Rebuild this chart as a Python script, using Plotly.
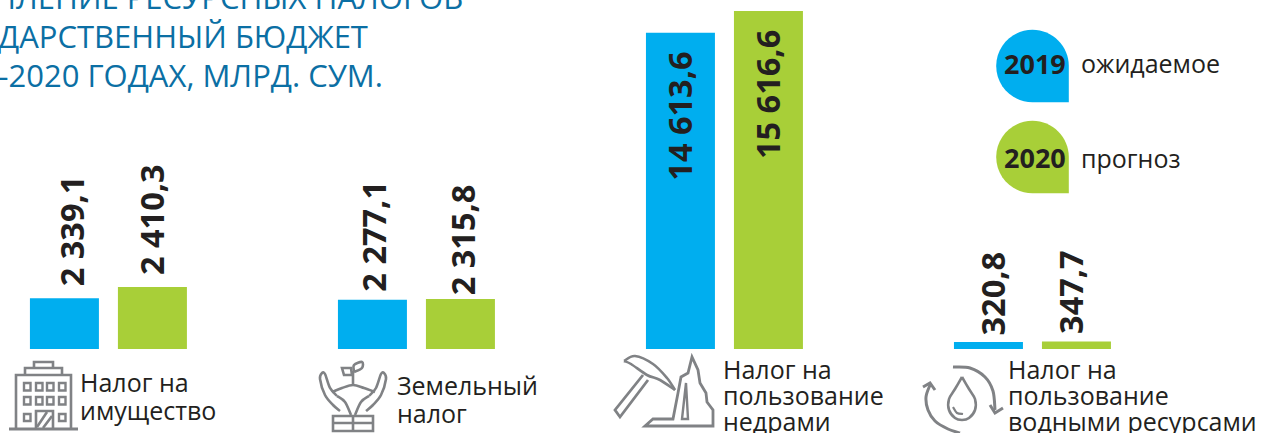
import plotly.graph_objects as go

W, H = 1261, 433

categories = ["Налог на имущество", "Земельный налог", "Налог на пользование недрами", "Налог на пользование водными ресурсами"]
# Values printed on the chart
values_2019 = [2339.1, 2277.1, 14613.6, 320.8]
values_2020 = [2410.3, 2315.8, 15616.6, 347.7]
# Bar heights: in the source the first 2020 bar is drawn taller than its printed value
bars_2019 = [2339.1, 2277.1, 14613.6, 320.8]
bars_2020 = [2860.0, 2315.8, 15616.6, 347.7]
label_lines = [["Налог на", "имущество"], ["Земельный", "налог"], ["Налог на", "пользование", "недрами"], ["Налог на", "пользование", "водными ресурсами"]]
title_lines = ["ПОСТУПЛЕНИЕ РЕСУРСНЫХ НАЛОГОВ", "В ГОСУДАРСТВЕННЫЙ БЮДЖЕТ", "В 2019–2020 ГОДАХ, МЛРД. СУМ."]
legend_years = ["2019", "2020"]
legend_names = ["ожидаемое", "прогноз"]

BLUE, GREEN, DARK, GREY, TITLE = "#00AEEF", "#A8CF38", "#231F20", "#808285", "#0B6FA4"
FONT = "Open Sans"

def fx(x): return x / W
def fy(y): return 1 - y / H

def path(*pts, close=False):
    return "M " + " L ".join(f"{fx(x):.5f},{fy(y):.5f}" for x, y in pts) + (" Z" if close else "")

def spline(*pts):
    """Catmull-Rom through pts, as cubic Beziers in paper coordinates."""
    d = f"M {fx(pts[0][0]):.5f},{fy(pts[0][1]):.5f}"
    for i in range(len(pts) - 1):
        p0 = pts[max(i - 1, 0)]; p1 = pts[i]; p2 = pts[i + 1]; p3 = pts[min(i + 2, len(pts) - 1)]
        c1 = (p1[0] + (p2[0] - p0[0]) / 6, p1[1] + (p2[1] - p0[1]) / 6)
        c2 = (p2[0] - (p3[0] - p1[0]) / 6, p2[1] - (p3[1] - p1[1]) / 6)
        d += f" C {fx(c1[0]):.5f},{fy(c1[1]):.5f} {fx(c2[0]):.5f},{fy(c2[1]):.5f} {fx(p2[0]):.5f},{fy(p2[1]):.5f}"
    return d

shapes = []
def stroke(*pts, close=False, w=2.6):
    shapes.append(dict(type="path", xref="paper", yref="paper", path=path(*pts, close=close),
                       line=dict(color=GREY, width=w)))

def curve(*pts, w=2.6):
    shapes.append(dict(type="path", xref="paper", yref="paper", path=spline(*pts),
                       line=dict(color=GREY, width=w)))

def rect(x0, y0, x1, y1, w=2.4):
    stroke((x0, y0), (x1, y0), (x1, y1), (x0, y1), close=True, w=w)

# building icon
stroke((9, 429), (78, 429), w=3)
stroke((16, 429), (16, 375), (71, 375), (71, 429))
stroke((25, 375), (25, 368), (62, 368), (62, 375))
stroke((34, 368), (34, 362), (53, 362), (53, 368))
for row_y in (383, 397):
    for col_x in (24, 36, 47, 59):
        rect(col_x, row_y, col_x + 6.5, row_y + 7.5)
rect(24, 414, 30.5, 421)
rect(59, 414, 65.5, 421)
stroke((36, 429), (36, 411), (53, 411), (53, 429))
stroke((37, 427), (47, 412))
stroke((43, 428), (52, 416))

# land icon
stroke((333, 416), (373, 416), (373, 431), (333, 431), close=True)
stroke((333, 423), (373, 423))
stroke((353, 416), (353, 431))
curve((340, 411), (333, 405), (325, 395), (320, 379), (322, 373), (325, 374), (330, 388), (337, 396))
curve((366, 411), (373, 405), (381, 395), (386, 379), (384, 373), (381, 374), (376, 388), (369, 396))
curve((337, 396), (345, 402), (351, 415))
curve((369, 396), (361, 402), (355, 415))
curve((332, 392), (342, 388), (353, 385), (364, 388), (375, 392))
stroke((353, 385), (353, 371))
stroke((352, 375), (344, 375), (342, 368), (351, 368), close=True)
curve((354, 372), (354, 365), (362, 362), (362, 368), (354, 372))

# pick and rock icon
curve((624, 361), (635, 356), (653, 364), (667, 378), (675, 390))
curve((675, 390), (660, 380), (647, 375), (631, 364), (624, 361))
stroke((643, 375), (615, 410), (620, 417), (648, 380), w=2.8)
stroke((645, 426), (653, 419), (673, 419), (678, 393), (681, 377), (688, 373), (692, 357), (698, 370), (700, 383),
       (706, 393), (707, 402), (713, 410), (713, 426), close=True, w=2.8)
stroke((682, 419), (686, 383), (688, 419), close=True, w=2.4)

# water icon
curve((953, 367), (970, 368), (985, 377), (993, 391), (995, 410), w=3)
curve((930, 385), (926, 397), (928, 410), (935, 421), (948, 429), (960, 433), w=3)
stroke((990, 405), (995, 413), (1003, 408), w=3)
stroke((923, 387), (930, 383), (935, 390), w=3)
curve((962, 377), (955, 389), (949, 399), (949, 410), (955, 418), (962, 420), (969, 418), (975, 410), (975, 399), (969, 389), (962, 377), w=2.6)
curve((953, 407), (957, 413), (963, 414), w=2.2)

# legend drops
k = 0.5523
for yc, col in ((66, BLUE), (157, GREEN)):
    cx, r = 1032.5, 36.3
    d = (f"M {fx(cx)},{fy(yc-r)} "
         f"C {fx(cx+k*r)},{fy(yc-r)} {fx(cx+r)},{fy(yc-k*r)} {fx(cx+r)},{fy(yc)} "
         f"L {fx(cx+r)},{fy(yc+r)} L {fx(cx)},{fy(yc+r)} "
         f"C {fx(cx-k*r)},{fy(yc+r)} {fx(cx-r)},{fy(yc+k*r)} {fx(cx-r)},{fy(yc)} "
         f"C {fx(cx-r)},{fy(yc-k*r)} {fx(cx-k*r)},{fy(yc-r)} {fx(cx)},{fy(yc-r)} Z")
    shapes.append(dict(type="path", xref="paper", yref="paper", path=d, fillcolor=col, line_width=0))

def fmt(v):
    whole, frac = f"{v:.1f}".split(".")
    if len(whole) > 3:
        whole = whole[:-3] + " " + whole[-3:]
    return f"{whole},{frac}"

ann = []
def text(t, x, y, size, color=DARK, xanchor="left", bold=False):
    ann.append(dict(text=f"<b>{t}</b>" if bold else t, xref="paper", yref="paper", x=fx(x), y=fy(y),
                    xanchor=xanchor, yanchor="middle", showarrow=False,
                    font=dict(family=FONT, size=size, color=color)))

# value labels
shift_2019 = [7, 1, -1, 4]
shift_2020 = [-1, 1.5, -1, -6]
rise_2019 = [10, 6, -150, 5]
rise_2020 = [10, 2, -150, 6]
for i, c in enumerate(categories):
    for vals, bars, dx0, sh, rs in ((values_2019, bars_2019, -44, shift_2019, rise_2019),
                                    (values_2020, bars_2020, 44, shift_2020, rise_2020)):
        ann.append(dict(text=f"<b>{fmt(vals[i])}</b>", x=c, y=bars[i], xref="x", yref="y", showarrow=False,
                        textangle=-90, xanchor="center", yanchor="bottom", xshift=dx0 + sh[i], yshift=rs[i],
                        font=dict(family=FONT, size=32.5, color=DARK)))

# category labels
label_x = [78, 395, 721, 1006]
label_y = [[382, 410], [385, 413], [369, 395, 421], [369, 395, 421]]
for lines, x, ys in zip(label_lines, label_x, label_y):
    for line, y in zip(lines, ys):
        text(line, x, y, 25)

# title
for line, xr, y in zip(title_lines, (465, 370, 385), (-3, 36, 75)):
    text(line, xr, y, 31, color=TITLE, xanchor="right")

# legend
for yr, name, yc in zip(legend_years, legend_names, (63, 158)):
    text(yr, 1035, yc, 27, xanchor="center", bold=True)
    text(name, 1079, yc, 25)

fig = go.Figure()
fig.add_bar(x=categories, y=bars_2019, name=legend_years[0], marker_color=BLUE, marker_line_width=0, showlegend=False)
fig.add_bar(x=categories, y=bars_2020, name=legend_years[1], marker_color=GREEN, marker_line_width=0, showlegend=False)
fig.update_layout(
    width=W, height=H, margin=dict(l=0, r=0, t=0, b=0, pad=0, autoexpand=False),
    barmode="group", bargap=0.4286, bargroupgap=0.216,
    paper_bgcolor="white", plot_bgcolor="white", showlegend=False,
    xaxis=dict(visible=False, type="category", range=[-0.352, 3.742]),
    yaxis=dict(visible=False, range=[-3882, 16127]),
    shapes=shapes, annotations=ann, font=dict(family=FONT),
)
fig.write_html("out.html", config={"displayModeBar": False},
               post_script="document.body.style.margin='0';document.body.style.overflow='hidden';")
